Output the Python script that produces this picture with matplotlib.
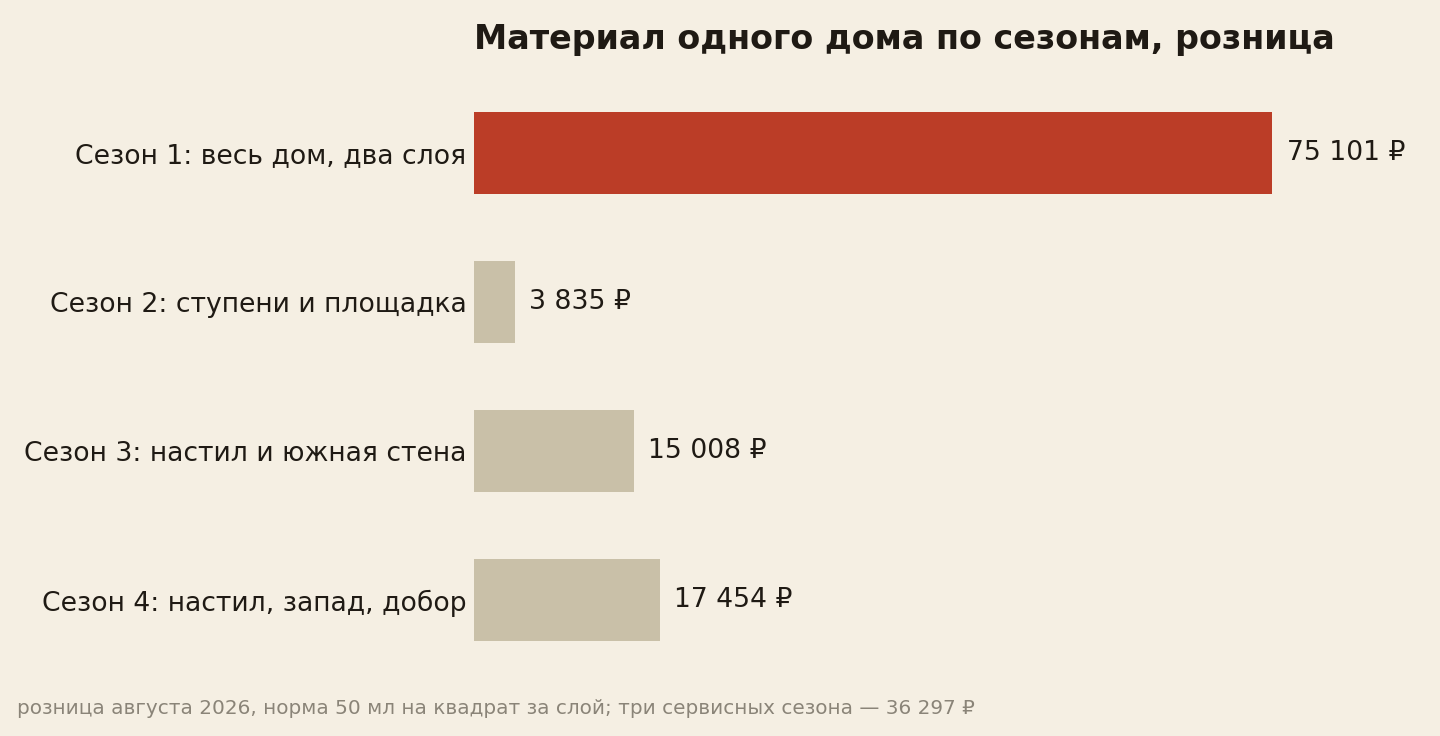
import matplotlib
matplotlib.use("Agg")
import matplotlib.pyplot as plt

categories = [
    "Сезон 1: весь дом, два слоя",
    "Сезон 2: ступени и площадка",
    "Сезон 3: настил и южная стена",
    "Сезон 4: настил, запад, добор",
]
values = [75101, 3835, 15008, 17454]
value_labels = ["75 101 ₽", "3 835 ₽", "15 008 ₽", "17 454 ₽"]
title = "Материал одного дома по сезонам, розница"
footnote = "розница августа 2026, норма 50 мл на квадрат за слой; три сервисных сезона — 36 297 ₽"

BG = "#f5efe3"
RED = "#bb3d27"
BEIGE = "#c9c0a8"
TEXT = "#1f1a14"
GRAY = "#8a8478"

plt.rcParams['font.family'] = ['DejaVu Sans']

W, H = 1440, 736
fig = plt.figure(figsize=(W / 100, H / 100), dpi=100, facecolor=BG)
left, right = 474, 1432
top, bottom = 78.5, 674.5
ax = fig.add_axes([left / W, 1 - bottom / H, (right - left) / W, (bottom - top) / H])
ax.set_facecolor(BG)

colors = [RED] + [BEIGE] * (len(values) - 1)
y = list(range(len(values)))
ax.barh(y, values, height=0.55, color=colors)
ax.set_ylim(len(values) - 0.5, -0.5)
ax.set_xlim(0, max(values) * 1.2)
ax.set_yticks(y)
ax.set_yticklabels(categories, fontsize=19.2, color=TEXT)
ax.tick_params(axis='y', length=0, pad=5.5)
ax.set_xticks([])
for s in ax.spines.values():
    s.set_visible(False)

for yi, v, lab in zip(y, values, value_labels):
    ax.annotate(lab, xy=(v, yi), xytext=(10.5, 0), textcoords='offset points',
                va='center', ha='left', fontsize=19.2, color=TEXT)

fig.text(left / W, 1 - 40 / H, title, fontsize=24, fontweight='bold',
         color=TEXT, ha='left', va='center')
fig.text(17 / W, 1 - 708 / H, footnote, fontsize=14.4, color=GRAY,
         ha='left', va='center')

fig.savefig("out.png", dpi=100, facecolor=BG)
